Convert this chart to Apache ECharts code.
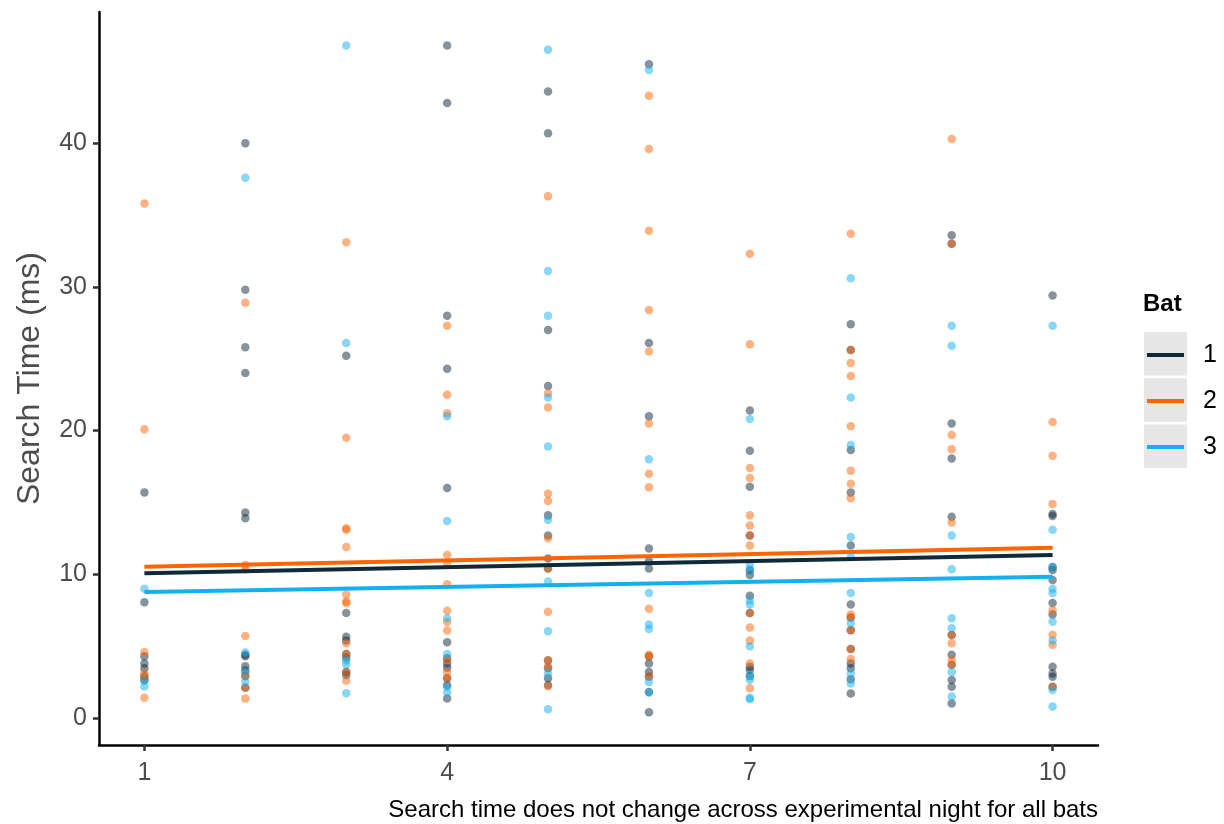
<!DOCTYPE html>
<html>
<head>
<meta charset="utf-8">
<script src="https://cdn.jsdelivr.net/npm/echarts@6/dist/echarts.min.js"></script>
<style>html,body{margin:0;padding:0;background:#fff}#c{width:1224px;height:824px}</style>
</head>
<body>
<div id="c"></div>
<script>
// ---- data ----
var nights = [1, 2, 3, 4, 5, 6, 7, 8, 9, 10];
var batNames = ['1', '2', '3'];
var xTicks = [1, 4, 7, 10];
var yTicks = [0, 10, 20, 30, 40];
// search times per night (index 0 = night 1)
var bat1 = [
  [15.7, 8.05, 4.3, 3.8, 3.46, 2.9, 2.64],
  [40.0, 29.8, 25.8, 24.0, 14.3, 13.9, 4.4, 4.3, 3.6, 3.3, 2.9, 2.1],
  [25.2, 7.3, 5.66, 5.4, 4.45, 4.2, 3.2, 3.0],
  [46.8, 42.8, 28.0, 24.3, 16.0, 5.27, 4.15, 3.8, 3.5, 2.76, 2.3, 1.35],
  [43.6, 40.7, 27.0, 23.1, 14.1, 12.7, 11.1, 10.4, 4.0, 3.46, 2.76, 2.3],
  [45.5, 26.1, 21.0, 11.8, 10.9, 10.4, 4.3, 3.8, 3.2, 2.87, 1.8, 0.4],
  [21.4, 18.6, 16.1, 12.7, 10.3, 9.95, 8.5, 7.3, 3.57, 3.34, 2.9],
  [27.4, 25.6, 18.65, 15.7, 12.0, 7.9, 7.0, 6.1, 4.8, 3.8, 3.46, 2.7, 1.7],
  [33.6, 33.0, 20.5, 18.05, 14.0, 5.78, 4.4, 3.7, 2.64, 2.18, 1.0],
  [29.4, 14.2, 14.05, 10.5, 10.3, 9.6, 8.0, 7.2, 3.57, 3.1, 2.87, 2.18]
];
var bat2 = [
  [35.8, 20.1, 4.6, 3.1, 2.8, 1.4],
  [28.9, 10.65, 10.35, 5.7, 3.0, 2.1, 1.35],
  [33.1, 19.5, 13.2, 13.1, 11.9, 8.6, 8.1, 8.0, 5.2, 4.45, 3.2, 2.6],
  [27.3, 22.5, 21.2, 11.34, 10.8, 9.3, 7.47, 6.68, 6.08, 4.0, 3.2, 2.76],
  [36.3, 22.6, 21.6, 15.6, 15.1, 12.5, 10.4, 7.4, 4.04, 3.6, 2.2],
  [43.3, 39.6, 33.9, 28.4, 25.5, 20.5, 17.0, 16.05, 7.6, 4.4, 4.3, 2.9],
  [32.3, 26.0, 17.4, 16.7, 14.1, 13.4, 12.7, 12.0, 7.3, 6.3, 5.4, 3.8, 2.07],
  [33.7, 25.6, 24.7, 23.8, 20.3, 17.2, 16.3, 15.3, 7.2, 7.0, 6.1, 4.8, 4.1],
  [40.3, 33.0, 19.7, 18.7, 13.6, 5.78, 5.2, 4.04, 3.7],
  [20.6, 18.25, 14.9, 7.5, 5.8, 5.1, 2.18]
];
var bat3 = [
  [9.0, 2.6, 2.2],
  [37.6, 4.55, 3.2, 2.5],
  [46.8, 26.1, 4.0, 3.7, 1.72],
  [21.0, 13.7, 6.94, 4.45, 2.18, 1.77],
  [46.5, 31.1, 28.0, 22.3, 18.9, 13.8, 9.5, 6.03, 3.1, 0.6],
  [45.1, 18.0, 8.7, 6.5, 6.2, 2.5, 1.77],
  [20.8, 10.65, 10.3, 8.2, 7.9, 5.0, 3.0, 2.64, 1.3, 1.4],
  [30.6, 22.3, 19.0, 12.6, 11.2, 8.7, 6.6, 3.1, 2.4],
  [27.3, 25.9, 12.7, 10.35, 6.94, 6.24, 3.2, 1.5],
  [27.3, 13.1, 10.5, 9.0, 8.7, 6.7, 5.4, 1.95, 0.8]
];
// fitted trend line values at first and last night
var fitFirst = [10.07, 10.53, 8.77];
var fitLast = [11.34, 11.85, 9.83];

// ---- styling ----
var colors = ['#0f283a', '#fd6404', '#12b0ef'];
var font = 'Liberation Sans, Arial, Helvetica, sans-serif';

function toPoints(arr) {
  var out = [];
  for (var i = 0; i < arr.length; i++) {
    for (var j = 0; j < arr[i].length; j++) out.push([nights[i], arr[i][j]]);
  }
  return out;
}
var bats = [bat1, bat2, bat3];
var series = [];
bats.forEach(function (b, k) {
  series.push({
    name: batNames[k], type: 'line',
    data: [[nights[0], fitFirst[k]], [nights[nights.length - 1], fitLast[k]]],
    showSymbol: false, symbol: 'none',
    lineStyle: { color: colors[k], width: 4 }, itemStyle: { color: colors[k] },
    z: 3, silent: true
  });
});
bats.forEach(function (b, k) {
  series.push({
    name: batNames[k], type: 'scatter', data: toPoints(b),
    symbolSize: 8.5, itemStyle: { color: colors[k], opacity: 0.5 },
    z: 2, silent: true
  });
});

var chart = echarts.init(document.getElementById('c'), null, { renderer: 'canvas' });
var boxes = [];
for (var i = 0; i < 3; i++) {
  boxes.push({ type: 'rect', shape: { x: 1144, y: 332 + i * 46.3, width: 43, height: 43.5 },
    style: { fill: '#e6e6e6' }, z: 0 });
}
chart.setOption({
  animation: false,
  backgroundColor: '#fff',
  textStyle: { fontFamily: font },
  grid: { left: 99, right: 126, top: 12, bottom: 79, containLabel: false },
  title: [
    { text: 'Bat', left: 1143, top: 289, padding: 0,
      textStyle: { fontFamily: font, fontSize: 24, fontWeight: 'bold', color: '#000', lineHeight: 30 } },
    { text: 'Search time does not change across experimental night for all bats', right: 126, top: 796, padding: 0,
      textStyle: { fontFamily: font, fontSize: 24, fontWeight: 'normal', color: '#000', lineHeight: 28 } }
  ],
  legend: {
    orient: 'vertical', left: 1147, top: 340, padding: 0,
    itemWidth: 37, itemHeight: 4, itemGap: 16,
    data: batNames.map(function (n, k) { return { name: n, icon: 'rect', itemStyle: { color: colors[k], opacity: 1 } }; }),
    itemStyle: { opacity: 1 },
    textStyle: { fontFamily: font, fontSize: 25, color: '#000', lineHeight: 30, padding: [0, 0, 0, 14] },
    selectedMode: false
  },
  graphic: boxes,
  xAxis: {
    type: 'value', min: 0.55, max: 10.45,
    splitLine: { show: false },
    axisLine: { show: true, onZero: false, lineStyle: { color: '#000', width: 2.5 } },
    axisTick: { show: true, length: 6, lineStyle: { color: '#333', width: 2.5 }, customValues: xTicks },
    axisLabel: { fontFamily: font, fontSize: 25, color: '#4d4d4d', margin: 16, customValues: xTicks }
  },
  yAxis: {
    type: 'value', min: -1.88, max: 49.13,
    name: 'Search Time (ms)', nameLocation: 'middle', nameGap: 53,
    nameTextStyle: { fontFamily: font, fontSize: 32, color: '#4d4d4d' },
    splitLine: { show: false },
    axisLine: { show: true, onZero: false, lineStyle: { color: '#000', width: 2.5 } },
    axisTick: { show: true, length: 6, lineStyle: { color: '#333', width: 2.5 }, customValues: yTicks },
    axisLabel: { fontFamily: font, fontSize: 25, color: '#4d4d4d', margin: 12, customValues: yTicks }
  },
  series: series
});
</script>
</body>
</html>
